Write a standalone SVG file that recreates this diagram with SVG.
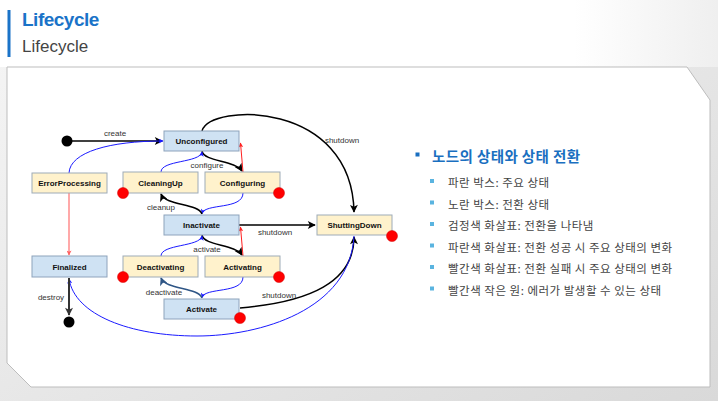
<svg xmlns="http://www.w3.org/2000/svg" width="718" height="401" viewBox="0 0 718 401">
<defs>
<linearGradient id="bg" x1="0" y1="0" x2="1" y2="1">
<stop offset="0" stop-color="#f6f6f6"/>
<stop offset="1" stop-color="#d9d9d9"/>
</linearGradient>
<linearGradient id="hd" x1="0" y1="0" x2="1" y2="0">
<stop offset="0" stop-color="#ffffff"/>
<stop offset="0.8" stop-color="#ffffff"/>
<stop offset="1" stop-color="#efefef"/>
</linearGradient>
<marker id="ab" viewBox="0 0 10 10" refX="9" refY="5" markerWidth="9" markerHeight="8" markerUnits="userSpaceOnUse" orient="auto"><path d="M0,0 L10,5 L0,10 L2.5,5 Z" fill="#000"/></marker>
<marker id="ad" viewBox="0 0 10 10" refX="9" refY="5" markerWidth="9" markerHeight="8" markerUnits="userSpaceOnUse" orient="auto"><path d="M0,0 L10,5 L0,10 L2.5,5 Z" fill="#2f5686"/></marker>
<marker id="ag" viewBox="0 0 10 10" refX="9" refY="5" markerWidth="9" markerHeight="8" markerUnits="userSpaceOnUse" orient="auto"><path d="M0,0 L10,5 L0,10 L2.5,5 Z" fill="#333"/></marker>
<marker id="au" viewBox="0 0 10 10" refX="9" refY="5" markerWidth="6" markerHeight="5" markerUnits="userSpaceOnUse" orient="auto"><path d="M0,0 L10,5 L0,10 L2.5,5 Z" fill="#1a1aff"/></marker>
<marker id="ar" viewBox="0 0 10 10" refX="9" refY="5" markerWidth="6" markerHeight="5" markerUnits="userSpaceOnUse" orient="auto"><path d="M0,0 L10,5 L0,10 L2.5,5 Z" fill="#ff2020"/></marker>
<marker id="ap" viewBox="0 0 10 10" refX="9" refY="5" markerWidth="6" markerHeight="5" markerUnits="userSpaceOnUse" orient="auto"><path d="M0,0 L10,5 L0,10 L2.5,5 Z" fill="#ff6060"/></marker>
</defs>
<style>
.bx{fill:#cfe2f3;stroke:#8ea3bc;stroke-width:1}
.yx{fill:#fff2cc;stroke:#9eabb8;stroke-width:1}
.nt{font-family:"Liberation Sans",Arial,sans-serif;font-weight:bold;font-size:8px;fill:#111;text-anchor:middle}
.lb{font-family:"Liberation Sans",Arial,sans-serif;font-size:8px;fill:#333;text-anchor:middle}
.err{fill:#ff0000;stroke:#d00000;stroke-width:0.5}
.dot{fill:#000}
.k{fill:none;stroke:#000;stroke-width:1.5}
.u{fill:none;stroke:#1a1aff;stroke-width:1}
.r{fill:none;stroke:#ff2020;stroke-width:1}
.kr{font-family:"Noto Sans CJK KR","Noto Sans",sans-serif;font-size:11.5px;letter-spacing:0.5px;fill:#444}
.sq{fill:#5ab4e0}
</style>
<rect x="0" y="0" width="718" height="401" fill="url(#bg)"/>
<rect x="0" y="0" width="718" height="67" fill="url(#hd)"/>
<polygon points="7,67 687,67 710,100 710,387 31,387 7,363" fill="#ffffff" stroke="#bdbdbd" stroke-width="1"/>
<g id="header">
<rect x="7.5" y="10" width="3" height="47" fill="#1a73c8"/>
<text x="22" y="26" font-family="Liberation Sans,Arial,sans-serif" font-weight="bold" font-size="19" letter-spacing="-0.5" fill="#1a73c8">Lifecycle</text>
<text x="22" y="52" font-family="Liberation Sans,Arial,sans-serif" font-size="17" fill="#444">Lifecycle</text>
</g>
<g id="connectors">
<path class="k" d="M72 141 L162 141" marker-end="url(#ab)"/>
<path class="u" d="M69 173 C70 152 110 141 163 141" marker-end="url(#au)"/>
<path class="k" d="M202 151 C204 162 235 160 242 171" marker-end="url(#ab)"/>
<path class="r" d="M243 172 L240.5 143" marker-end="url(#ar)"/>
<path class="u" d="M243 193 C243 210 205 203 202 213.5" marker-end="url(#au)"/>
<path class="k" d="M202 214 C198 203 166 206 161 194" marker-end="url(#ab)"/>
<path class="u" d="M161 172 C161 160 200 163 202 152" marker-end="url(#au)"/>
<path class="k" d="M202 235 C204 246 235 244 242 255" marker-end="url(#ab)"/>
<path class="r" d="M243 256 L240.5 227" marker-end="url(#ar)"/>
<path class="u" d="M243 277 C243 294 205 287 202 297.5" marker-end="url(#au)"/>
<path fill="none" stroke="#2f5686" stroke-width="1.5" d="M202 298 C198 287 166 290 161 278" marker-end="url(#ad)"/>
<path class="u" d="M161 256 C161 244 200 247 202 236" marker-end="url(#au)"/>
<path class="k" d="M202 131 C210 103 352 100 354 212" marker-end="url(#ab)"/>
<path class="k" d="M239 225 L315 225" marker-end="url(#ab)"/>
<path class="k" d="M240 308 C310 302 354 282 354 237" marker-end="url(#ab)"/>
<path class="u" d="M354 236 C350 310 260 336 197 336 C130 336 75 315 69 279" marker-end="url(#au)"/>
<path fill="none" stroke="#ff7070" stroke-width="1.2" d="M69 193 L69 255" marker-end="url(#ap)"/>
<path fill="none" stroke="#333" stroke-width="2" d="M69 278 L69 315" marker-end="url(#ag)"/>
<text class="lb" x="115" y="136">create</text>
<text class="lb" x="207" y="168">configure</text>
<text class="lb" x="161" y="210">cleanup</text>
<text class="lb" x="207" y="252">activate</text>
<text class="lb" x="164" y="295">deactivate</text>
<text class="lb" x="342" y="143">shutdown</text>
<text class="lb" x="275" y="235">shutdown</text>
<text class="lb" x="279" y="298">shutdown</text>
<text class="lb" x="51" y="300">destroy</text>
</g>
<g id="start"><circle class="dot" cx="67" cy="141" r="5.5"/></g>
<g id="end"><circle class="dot" cx="69" cy="322" r="5.5"/></g>
<g id="Unconfigured"><rect class="bx" x="164" y="131" width="75" height="20"/><text class="nt" x="201.5" y="144">Unconfigured</text></g>
<g id="ErrorProcessing"><rect class="yx" x="32" y="173" width="75" height="20"/><text class="nt" x="69.5" y="186">ErrorProcessing</text></g>
<g id="CleaningUp"><rect class="yx" x="123" y="172" width="75" height="21"/><text class="nt" x="160.5" y="185.5">CleaningUp</text><circle class="err" cx="123" cy="193" r="5.5"/></g>
<g id="Configuring"><rect class="yx" x="205" y="172" width="75" height="21"/><text class="nt" x="242.5" y="185.5">Configuring</text><circle class="err" cx="279" cy="193" r="5.5"/></g>
<g id="Inactivate"><rect class="bx" x="164" y="215" width="75" height="20"/><text class="nt" x="201.5" y="228">Inactivate</text></g>
<g id="ShuttingDown"><rect class="yx" x="317" y="215" width="75" height="20"/><text class="nt" x="354.5" y="228">ShuttingDown</text><circle class="err" cx="392" cy="236" r="5.5"/></g>
<g id="Finalized"><rect class="bx" x="32" y="256" width="75" height="21"/><text class="nt" x="69.5" y="269.5">Finalized</text></g>
<g id="Deactivating"><rect class="yx" x="123" y="256" width="75" height="21"/><text class="nt" x="160.5" y="269.5">Deactivating</text><circle class="err" cx="123" cy="277" r="5.5"/></g>
<g id="Activating"><rect class="yx" x="205" y="256" width="75" height="21"/><text class="nt" x="242.5" y="269.5">Activating</text><circle class="err" cx="279" cy="277" r="5.5"/></g>
<g id="Activate"><rect class="bx" x="164" y="299" width="75" height="20"/><text class="nt" x="201.5" y="312">Activate</text><circle class="err" cx="240" cy="318" r="5.5"/></g>
<g id="legend">
<rect x="415.5" y="152.5" width="4" height="4" fill="#1a6fc0"/>
<text x="432" y="162" font-family="Noto Sans CJK KR,Noto Sans,sans-serif" font-weight="bold" font-size="14.5" letter-spacing="0.4" fill="#1a6fc0">노드의 상태와 상태 전환</text>
<rect class="sq" x="430" y="179" width="4" height="4"/><text class="kr" x="448" y="187">파란 박스: 주요 상태</text>
<rect class="sq" x="430" y="200.5" width="4" height="4"/><text class="kr" x="448" y="208.5">노란 박스: 전환 상태</text>
<rect class="sq" x="430" y="222" width="4" height="4"/><text class="kr" x="448" y="230">검정색 화살표: 전환을 나타냄</text>
<rect class="sq" x="430" y="243.5" width="4" height="4"/><text class="kr" x="448" y="251.5">파란색 화살표: 전환 성공 시 주요 상태의 변화</text>
<rect class="sq" x="430" y="265" width="4" height="4"/><text class="kr" x="448" y="273">빨간색 화살표: 전환 실패 시 주요 상태의 변화</text>
<rect class="sq" x="430" y="286.5" width="4" height="4"/><text class="kr" x="448" y="294.5">빨간색 작은 원: 에러가 발생할 수 있는 상태</text>
</g>
</svg>
